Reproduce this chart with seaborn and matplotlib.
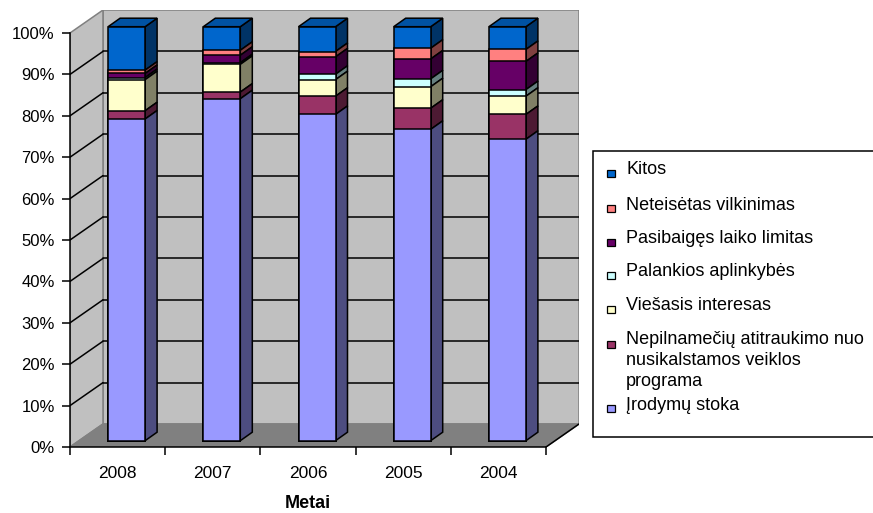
import numpy as np
import pandas as pd
import matplotlib
matplotlib.use('Agg')
import matplotlib.pyplot as plt
from matplotlib.patches import Polygon, Rectangle
from matplotlib.colors import to_rgb
import seaborn as sns

sns.set_style('ticks')
plt.rcParams['font.family'] = ['Liberation Sans', 'DejaVu Sans']
plt.rcParams.update({'text.color': 'black', 'axes.labelcolor': 'black'})

# ─── data (percent of cases per year, stacked bottom -> top) ────────────────
YEARS = ['2008', '2007', '2006', '2005', '2004']
SERIES = ['Įrodymų stoka',
          'Nepilnamečių atitraukimo nuo\nnusikalstamos veiklos\nprograma',
          'Viešasis interesas',
          'Palankios aplinkybės',
          'Pasibaigęs laiko limitas',
          'Neteisėtas vilkinimas',
          'Kitos']
irodymu_stoka = [77.7, 82.6, 78.8, 75.2, 72.8]
nepilnameciu  = [2.0, 1.6, 4.4, 5.1, 6.0]
viesasis      = [7.5, 6.7, 4.0, 5.2, 4.4]
palankios     = [0.5, 0.4, 1.3, 1.9, 1.6]
pasibaiges    = [1.0, 1.8, 4.2, 4.8, 6.8]
neteisetas    = [0.8, 1.2, 1.3, 2.6, 2.9]
kitos         = [10.5, 5.7, 6.0, 5.2, 5.5]
VALUES = [irodymu_stoka, nepilnameciu, viesasis, palankios,
          pasibaiges, neteisetas, kitos]
COLORS = ['#9999FF', '#993366', '#FFFFCC', '#CCFFFF', '#660066', '#FF8080', '#0066CC']

# ─── pseudo-3D geometry (pixels -> data units) ───────────────────────────────
W, H = 873, 513
PX_X, PX_Y = 95.2, 4.14          # px per category, px per percent
WALL_DX, WALL_DY = 33 / PX_X, 23 / PX_Y
BAR_DX, BAR_DY = 9 / PX_X, 6.3 / PX_Y
DEP_DX, DEP_DY = 12 / PX_X, 8.5 / PX_Y
BAR_W = 37 / PX_X
LW = 1.1


def shade(c, f):
    return tuple(v * f for v in to_rgb(c))


fig = plt.figure(figsize=(W / 100, H / 100), dpi=100)
ax = fig.add_axes([70 / W, (H - 447) / H,
                   (5 + WALL_DX) * PX_X / W, (100 + WALL_DY) * PX_Y / H])
ax.patch.set_visible(False)

# walls + floor
ax.add_patch(Rectangle((-0.5 + WALL_DX, WALL_DY), 5, 100, fc='#C0C0C0',
                       ec='#808080', lw=LW, zorder=0))
ax.add_patch(Polygon([(-0.5, 0), (-0.5, 100), (-0.5 + WALL_DX, 100 + WALL_DY),
                      (-0.5 + WALL_DX, WALL_DY)], closed=True, fc='#C0C0C0',
                     ec='#808080', lw=LW, zorder=0))
ax.add_patch(Polygon([(-0.5, 0), (4.5, 0), (4.5 + WALL_DX, WALL_DY),
                      (-0.5 + WALL_DX, WALL_DY)], closed=True, fc='#808080',
                     ec='#808080', lw=LW, zorder=1))
ax.plot([4.5, 4.5 + WALL_DX], [0, WALL_DY], color='black', lw=LW, zorder=1.5)
for v in range(10, 100, 10):
    ax.plot([-0.5 + WALL_DX, 4.5 + WALL_DX], [v + WALL_DY] * 2, color='black',
            lw=LW, zorder=0.5)
    ax.plot([-0.5, -0.5 + WALL_DX], [v, v + WALL_DY], color='black',
            lw=LW, zorder=0.5)

# stacked bars: cumulative layers drawn from the top series down
cum = np.cumsum(np.array(VALUES), axis=0)
for k in range(len(SERIES) - 1, -1, -1):
    df = pd.DataFrame({'Metai': YEARS, 'cum': cum[k]})
    n0 = len(ax.patches)
    sns.barplot(data=df, x='Metai', y='cum', color=COLORS[k], saturation=1,
                width=BAR_W, edgecolor='black', linewidth=LW, errorbar=None,
                zorder=3, ax=ax)
    for j, p in enumerate(ax.patches[n0:]):
        p.set_x(p.get_x() + BAR_DX)
        p.set_y(BAR_DY)
        x0, w = p.get_x(), p.get_width()
        top = BAR_DY + p.get_height()
        bot = top - VALUES[k][j]
        x1 = x0 + w
        ax.add_patch(Polygon([(x1, bot), (x1 + DEP_DX, bot + DEP_DY),
                              (x1 + DEP_DX, top + DEP_DY), (x1, top)],
                             closed=True, fc=shade(COLORS[k], 0.5), ec='black',
                             lw=LW, zorder=2.9))
        if k == len(SERIES) - 1:
            ax.add_patch(Polygon([(x0, top), (x1, top), (x1 + DEP_DX, top + DEP_DY),
                                  (x0 + DEP_DX, top + DEP_DY)], closed=True,
                                 fc=shade(COLORS[k], 0.8), ec='black', lw=LW,
                                 zorder=2.9))

ax.set_xlim(-0.5, 4.5 + WALL_DX)
ax.set_ylim(0, 100 + WALL_DY)

# axes, ticks
ax.set_xticks(range(len(YEARS)))
ax.set_xticklabels(YEARS)
ax.set_xticks(np.arange(-0.5, len(YEARS)), minor=True)
ax.tick_params(axis='x', which='major', length=0, pad=14, labelsize=12.5,
               colors='black')
ax.tick_params(axis='x', which='minor', length=6, width=LW, direction='out',
               colors='black')
ax.set_yticks(range(0, 101, 10))
ax.set_yticklabels([f'{v}%' for v in range(0, 101, 10)])
ax.tick_params(axis='y', length=6, width=LW, pad=5, labelsize=12,
               direction='out', colors='black')
sns.despine(ax=ax)
for s in ['left', 'bottom']:
    ax.spines[s].set_color('black')
    ax.spines[s].set_linewidth(LW)
    ax.spines[s].set_zorder(4)
ax.spines['left'].set_bounds(0, 100)
ax.spines['bottom'].set_bounds(-0.5, 4.5)
ax.set_ylabel('')
ax.set_xlabel('Metai', fontsize=13, fontweight='bold')
ax.xaxis.set_label_coords((308 - 70) / ((5 + WALL_DX) * PX_X), -57 / ((100 + WALL_DY) * PX_Y))
ax.xaxis.label.set_va('center')


# manual legend (figure pixel coords)
def fpt(x, y):
    return x / W, 1 - y / H


fig.patches.append(Rectangle(fpt(593, 437), 300 / W, (437 - 151) / H,
                             transform=fig.transFigure, fc='white', ec='black',
                             lw=LW, zorder=5))
LEG_Y = [170, 205, 239, 272, 306, 341, 405]
for i, k in enumerate(range(len(SERIES) - 1, -1, -1)):
    y = LEG_Y[i]
    fig.patches.append(Rectangle(fpt(607, y + 7), 7.5 / W, 7.5 / H,
                                 transform=fig.transFigure, fc=COLORS[k],
                                 ec='black', lw=0.9, zorder=6))
    if '\n' in SERIES[k]:
        fig.text(*fpt(626, y - 10), SERIES[k], fontsize=13, va='top',
                 ha='left', linespacing=1.3, zorder=6)
    else:
        fig.text(*fpt(626, y), SERIES[k], fontsize=13, va='center',
                 ha='left', zorder=6)

fig.savefig('out.png', dpi=100)
